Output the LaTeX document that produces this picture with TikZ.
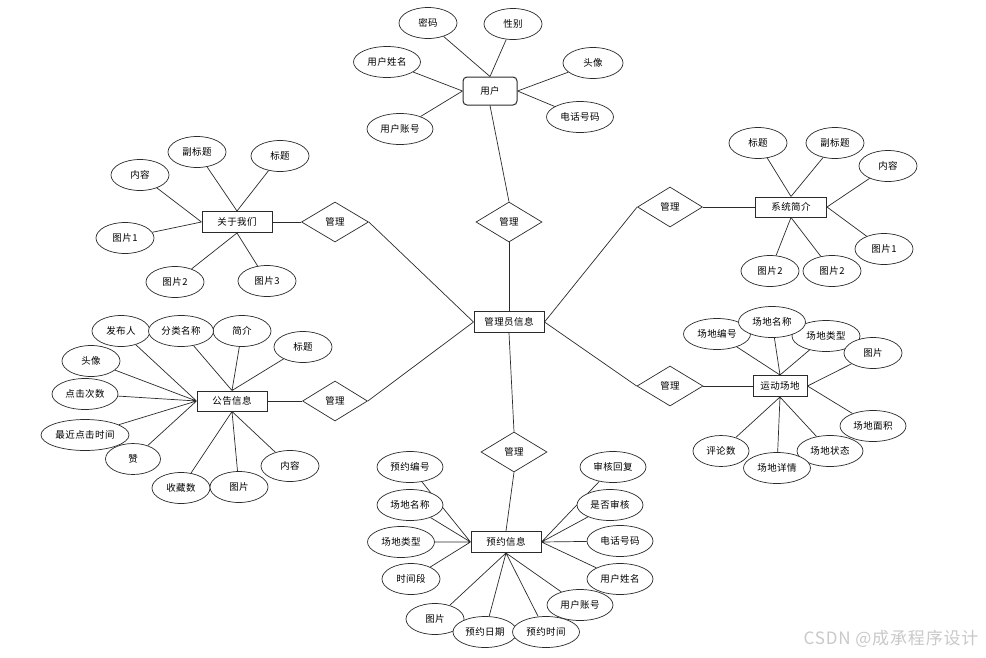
\documentclass[tikz,border=0pt]{standalone}
\usepackage{fontspec}
\setmainfont{Noto Sans CJK SC}[LetterSpace=5]
\usetikzlibrary{shapes.geometric, backgrounds}
\definecolor{linegray}{HTML}{2B2B2B}
\definecolor{marktext}{HTML}{C9C9C9}

\begin{document}
\begin{tikzpicture}[
  x=1pt, y=-1pt,
  every node/.style={font=\fontsize{9.5}{11}\selectfont, text=black},
  entity/.style={
    draw=linegray,
    line width=1pt,
    fill=white,
    minimum width=70pt,
    minimum height=21pt,
    inner sep=2pt,
  },
  attr/.style={
    ellipse,
    draw=linegray,
    line width=0.7pt,
    fill=white,
    minimum width=58pt,
    minimum height=31pt,
    inner sep=0pt,
  },
  rel/.style={
    diamond,
    draw=linegray,
    line width=0.7pt,
    fill=white,
    minimum width=66pt,
    minimum height=40pt,
    inner sep=0pt,
  },
  link/.style={
    draw=linegray,
    line width=0.7pt,
  },
]
  % centre
  \node[entity] (admin) at (509,322) {管理员信息};

  % user
  \node[entity, rounded corners=4pt, minimum width=54pt, minimum height=28pt] (user) at (490,91) {用户};
  \node[attr] (u-pwd) at (428,23) {密码};
  \node[attr] (u-sex) at (513,24) {性别};
  \node[attr, minimum width=67pt] (u-name) at (387,62) {用户姓名};
  \node[attr, minimum width=60pt] (u-avatar) at (593,63) {头像};
  \node[attr, minimum width=67pt] (u-tel) at (580,117) {电话号码};
  \node[attr, minimum width=66pt] (u-acct) at (400,129) {用户账号};
  \node[rel] (r-user) at (509,222) {管理};

  % about us
  \node[entity] (about) at (237,222) {关于我们};
  \node[rel, minimum width=67pt] (r-about) at (335,222) {管理};
  \node[attr] (a-text) at (140,175) {内容};
  \node[attr] (a-sub) at (197,152) {副标题};
  \node[attr] (a-title) at (280,156) {标题};
  \node[attr] (a-pic1) at (125,238) {图片1};
  \node[attr] (a-pic2) at (175,282) {图片2};
  \node[attr] (a-pic3) at (267,281) {图片3};

  % system intro
  \node[entity, minimum width=71pt, minimum height=20pt] (intro) at (791,207) {系统简介};
  \node[rel, minimum width=65pt] (r-intro) at (670,207) {管理};
  \node[attr] (s-title) at (758,143) {标题};
  \node[attr] (s-sub) at (835,143) {副标题};
  \node[attr] (s-text) at (888,166) {内容};
  \node[attr] (s-pic1) at (884,249) {图片1};
  \node[attr] (s-pic2) at (770,271) {图片2};
  \node[attr] (s-pic3) at (832,271) {图片2};

  % notices
  \node[entity, minimum height=20pt] (notice) at (232,401) {公告信息};
  \node[rel, minimum width=65pt] (r-notice) at (335,401) {管理};
  \node[attr] (n-author) at (121,331) {发布人};
  \node[attr] (n-brief) at (242,331) {简介};
  \node[attr, minimum width=65pt] (n-cat) at (181,331) {分类名称};
  \node[attr] (n-title) at (303,347) {标题};
  \node[attr] (n-avatar) at (91,361) {头像};
  \node[attr, minimum width=66pt] (n-clicks) at (85,394) {点击次数};
  \node[attr, minimum width=88pt] (n-last) at (85,435) {最近点击时间};
  \node[attr, minimum width=55pt] (n-like) at (133,459) {赞};
  \node[attr] (n-fav) at (181,488) {收藏数};
  \node[attr] (n-pic) at (239,487) {图片};
  \node[attr] (n-text) at (290,466) {内容};

  % venues
  \node[entity, minimum width=54pt] (venue) at (780,386) {运动场地};
  \node[rel] (r-venue) at (670,386) {管理};
  \node[attr, minimum width=67pt] (v-no) at (717,334) {场地编号};
  \node[attr, minimum width=68pt] (v-type) at (826,336) {场地类型};
  \node[attr, minimum width=67pt] (v-name) at (772,322) {场地名称};
  \node[attr] (v-pic) at (873,353) {图片};
  \node[attr, minimum width=66pt] (v-area) at (873,426) {场地面积};
  \node[attr, minimum width=56pt] (v-rev) at (721,451) {评论数};
  \node[attr, minimum width=66pt] (v-state) at (830,451) {场地状态};
  \node[attr, minimum width=67pt] (v-detail) at (777,468) {场地详情};

  % bookings
  \node[entity] (booking) at (506,542) {预约信息};
  \node[rel] (r-booking) at (514,452) {管理};
  \node[attr, minimum width=66pt] (b-no) at (410,467) {预约编号};
  \node[attr, minimum width=66pt] (b-venue) at (410,505) {场地名称};
  \node[attr, minimum width=67pt] (b-type) at (401,542) {场地类型};
  \node[attr] (b-slot) at (411,579) {时间段};
  \node[attr] (b-pic) at (435,619) {图片};
  \node[attr, minimum width=64pt] (b-date) at (485,632) {预约日期};
  \node[attr, minimum width=67pt] (b-time) at (546,632) {预约时间};
  \node[attr, minimum width=66pt] (b-acct) at (580,605) {用户账号};
  \node[attr, minimum width=66pt] (b-name) at (620,579) {用户姓名};
  \node[attr, minimum width=66pt] (b-tel) at (620,541) {电话号码};
  \node[attr, minimum width=66pt] (b-check) at (610,505) {是否审核};
  \node[attr, minimum width=66pt] (b-reply) at (613,467) {审核回复};

  \node[font=\fontsize{17}{19}\selectfont, text=marktext] (mark) at (891,639) {CSDN @成承程序设计};

  \begin{scope}[on background layer]
    \path[fill=white, use as bounding box] (0,0) rectangle (986,657);

    % relations
    \draw[link] (user.south) -- (r-user.north);
    \draw[link] (r-user.south) -- (admin.north);
    \draw[link] (about.east) -- (r-about.west);
    \draw[link] (r-about.east) -- (admin.west);
    \draw[link] (notice.east) -- (r-notice.west);
    \draw[link] (r-notice.east) -- (admin.west);
    \draw[link] (admin.east) -- (r-intro.west);
    \draw[link] (r-intro.east) -- (intro.west);
    \draw[link] (admin.east) -- (r-venue.west);
    \draw[link] (r-venue.east) -- (venue.west);
    \draw[link] (admin.south) -- (r-booking.north);
    \draw[link] (r-booking.south) -- (booking.north);

    % attributes
    \draw[link] (u-pwd) -- (user.north) (u-sex) -- (user.north);
    \draw[link] (u-name) -- (user.west) (u-acct) -- (user.west);
    \draw[link] (u-avatar) -- (user.east) (u-tel) -- (user.east);

    \draw[link] (a-text) -- (about.west) (a-pic1) -- (about.west);
    \draw[link] (a-sub) -- (about.north) (a-title) -- (about.north);
    \draw[link] (a-pic2) -- (about.south) (a-pic3) -- (about.south);

    \draw[link] (s-title) -- (intro.north) (s-sub) -- (intro.north);
    \draw[link] (s-text) -- (intro.east) (s-pic1) -- (intro.east);
    \draw[link] (s-pic2) -- (intro.south) (s-pic3) -- (intro.south);

    \draw[link] (n-author) -- (notice.west) (n-avatar) -- (notice.west)
      (n-clicks) -- (notice.west) (n-last) -- (notice.west) (n-like) -- (notice.west);
    \draw[link] (n-cat) -- (notice.north) (n-brief) -- (notice.north) (n-title) -- (notice.north);
    \draw[link] (n-fav) -- (notice.south) (n-pic) -- (notice.south) (n-text) -- (notice.south);

    \draw[link] (v-no) -- (venue.north) (v-name) -- (venue.north) (v-type) -- (venue.north);
    \draw[link] (v-pic) -- (venue.east) (v-area) -- (venue.east);
    \draw[link] (v-state) -- (venue.south) (v-detail) -- (venue.south) (v-rev) -- (venue.south);

    \draw[link] (b-no) -- (booking.west) (b-venue) -- (booking.west)
      (b-type) -- (booking.west) (b-slot) -- (booking.west);
    \draw[link] (b-pic) -- (booking.south) (b-date) -- (booking.south)
      (b-time) -- (booking.south) (b-acct) -- (booking.south);
    \draw[link] (b-reply) -- (booking.east) (b-check) -- (booking.east)
      (b-tel) -- (booking.east) (b-name) -- (booking.east);
  \end{scope}
\end{tikzpicture}
\end{document}
